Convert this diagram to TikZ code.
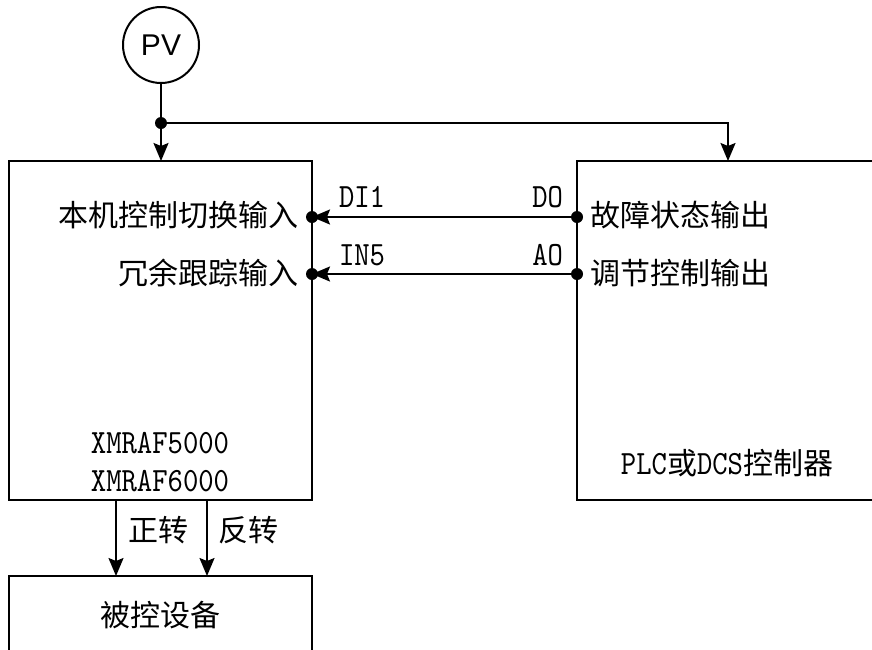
\documentclass[tikz,border=0pt]{standalone}
\usepackage{fontspec}
\newfontfamily\cjk{Noto Sans CJK SC}
\newfontfamily\pvfont{Liberation Sans}
\newfontfamily\monofnt[FakeStretch=0.86]{lmmono10-regular.otf}
\usetikzlibrary{arrows.meta}
\newcommand{\zh}[1]{{\fontsize{30}{36}\selectfont\cjk #1}}
\begin{document}
\begin{tikzpicture}[x=1pt,y=-1pt,
  line width=2pt,
  every node/.style={inner sep=0pt,outer sep=0pt},
  txt/.style={font=\fontsize{30}{36}\selectfont\cjk},
  mono/.style={font=\fontsize{34}{40}\selectfont\monofnt},
  blk/.style={draw,rectangle,minimum width=#1},
  arr/.style={-{Stealth[length=18pt,width=15pt,inset=3pt]}},
  dot/.style={circle,fill=black,minimum size=12pt}]
\useasboundingbox (0,0) rectangle (872,649);
\clip (0,0) rectangle (872,649);
% boxes
\node[blk=303pt,minimum height=339pt] (L) at (160.5,330.5) {};
\node[blk=323pt,minimum height=339pt] (R) at (738.5,330.5) {};
\node[blk=303pt,minimum height=124pt] (B) at (160.5,638) {};
% PV
\node[draw,circle,minimum size=76pt,font=\fontsize{30}{36}\selectfont\pvfont] (pv) at (161,45) {PV};
\coordinate (j) at (161,123);
\coordinate (t) at (728,123);
\draw (pv) -- (j);
\draw[arr] (j) -- (j |- L.north);
\draw[arr] (j) -- (t) -- (t |- R.north);
\node[dot] (jd) at (j) {};
% signal lines
\coordinate (ldi) at (L.east |- 0,217);
\coordinate (rdo) at (R.west |- 0,217);
\coordinate (lin) at (L.east |- 0,274);
\coordinate (rao) at (R.west |- 0,274);
\draw[arr] (rdo) -- (ldi);
\draw[arr] (rao) -- (lin);
\node[dot] (d1) at (ldi) {};
\node[dot] (d2) at (rdo) {};
\node[dot] (d3) at (lin) {};
\node[dot] (d4) at (rao) {};
% labels
\node[txt,anchor=east] (t1) at (298,215) {本机控制切换输入};
\node[txt,anchor=east] (t2) at (298,273) {冗余跟踪输入};
\node[txt,anchor=west] (t3) at (590,215) {故障状态输出};
\node[txt,anchor=west] (t4) at (590,273) {调节控制输出};
\node[mono,anchor=west] (s1) at (339,197) {DI1};
\node[mono,anchor=east] (s2) at (563,197) {DO};
\node[mono,anchor=west] (s3) at (339,255) {IN5};
\node[mono,anchor=east] (s4) at (563,255) {AO};
\node[mono] (m1) at (160,443) {XMRAF5000};
\node[mono] (m2) at (160,481) {XMRAF6000};
\node[mono] (plc) at (727,463) {PLC\zh{或}DCS\zh{控制器}};
% bottom arrows
\coordinate (f1) at (116,0);
\coordinate (f2) at (207,0);
\draw[arr] (f1 |- L.south) -- (f1 |- B.north);
\draw[arr] (f2 |- L.south) -- (f2 |- B.north);
\node[txt,anchor=west] (zz) at (128,530) {正转};
\node[txt,anchor=west] (fz) at (218,530) {反转};
\node[txt] (bk) at (160,615) {被控设备};
\end{tikzpicture}
\end{document}
